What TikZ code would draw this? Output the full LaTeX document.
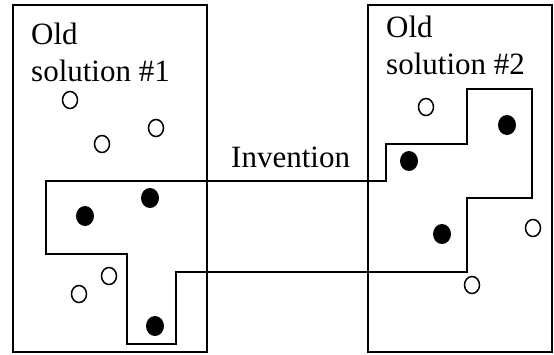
\documentclass[tikz,border=0pt]{standalone}
\usepackage{fontspec}
\setmainfont{Liberation Serif}
\begin{document}
\begin{tikzpicture}[x=1pt,y=-1pt,
  frame/.style={draw=black,line width=2pt},
  region/.style={draw=black,line width=2pt,line join=miter},
  olddot/.style={draw=black,line width=1.5pt,fill=white},
  newdot/.style={fill=black},
  label/.style={anchor=base west,inner sep=0pt,font=\fontsize{31}{37}\selectfont}]
\useasboundingbox (0,0) rectangle (554,354);
% the two old solutions
\draw[frame] (13,5) rectangle (207,352);
\draw[frame] (368,5) rectangle (552,352);
\node[label] (o1a) at (31,44) {Old};
\node[label] (o1b) at (31,81) {solution \#1};
\node[label] (o2a) at (386,37) {Old};
\node[label] (o2b) at (386,74) {solution \#2};
% the invention, drawn across both
\draw[region] (46,181) -- (386,181) -- (386,144) -- (467,144) -- (467,89)
  -- (532,89) -- (532,198) -- (467,198) -- (467,272) -- (176,272)
  -- (176,344) -- (127,344) -- (127,254) -- (46,254) -- cycle;
\node[label] (inv) at (231,167) {Invention};
% features: open = old only, filled = taken into the invention
\foreach \p in {(70,100),(102,144),(156,128),(79,294),(109,276),
                (426,107),(533,228),(472,285)}
  \draw[olddot] \p ellipse [x radius=7.5, y radius=8.5];
\foreach \p in {(85,216),(150,198),(155,326),(409,161),(507,125),(442,234)}
  \fill[newdot] \p ellipse [x radius=9, y radius=10];
\end{tikzpicture}
\end{document}
